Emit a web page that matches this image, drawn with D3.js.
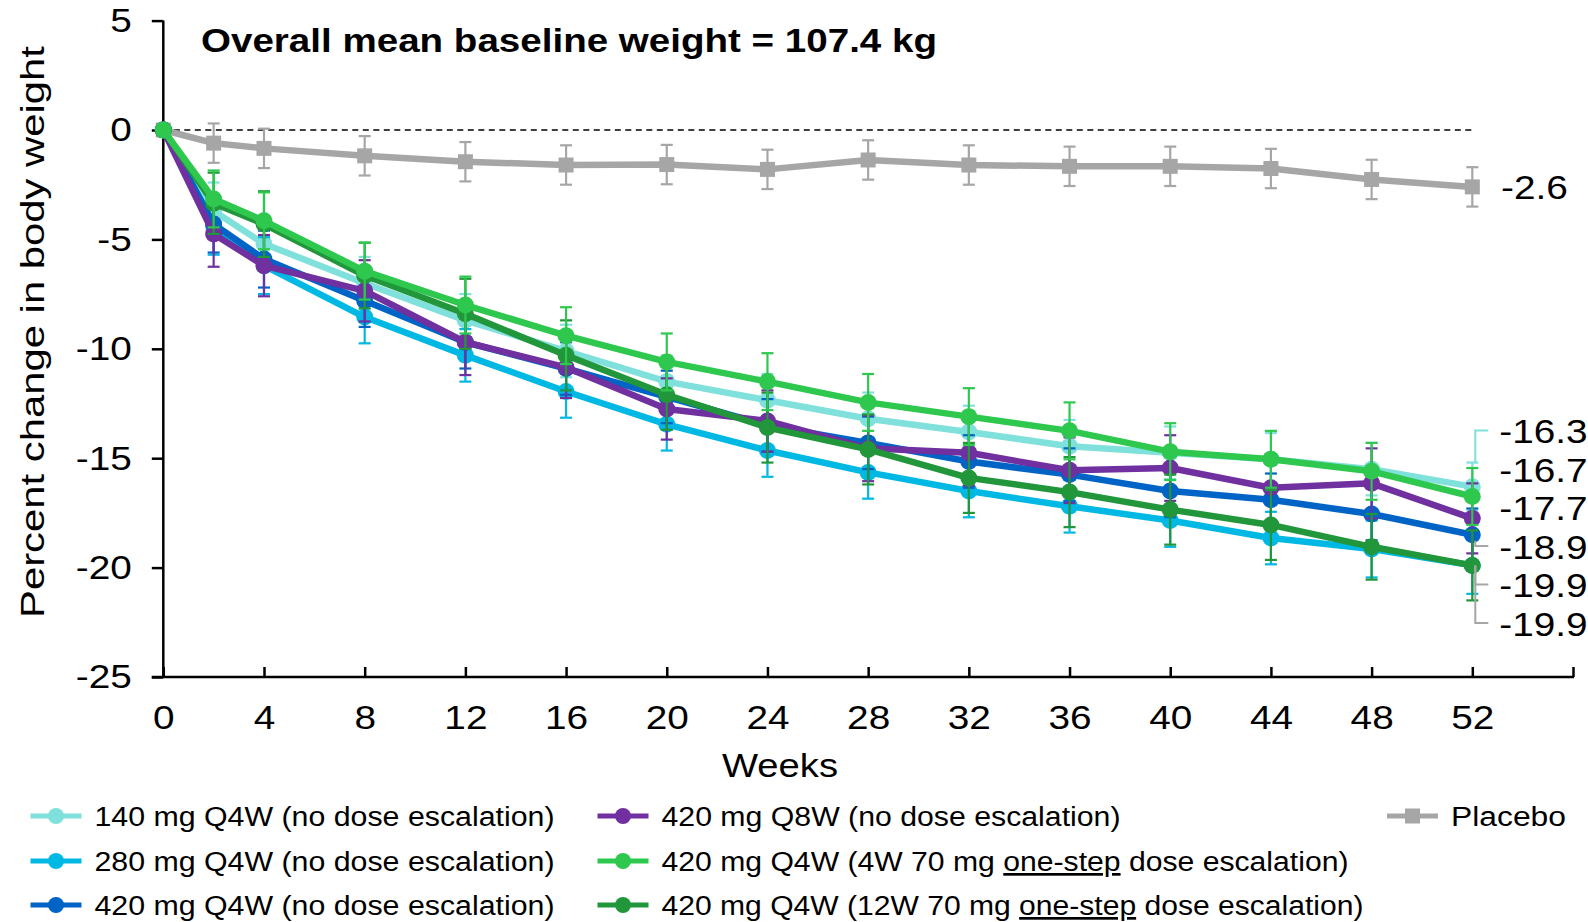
<!DOCTYPE html>
<html><head><meta charset="utf-8">
<script src="https://cdn.jsdelivr.net/npm/d3@7/dist/d3.min.js"></script>
<style>body{margin:0;background:#fff;}svg{display:block;}</style>
</head><body>
<script>
// ---------- DATA ----------
const weeks = [0, 2, 4, 8, 12, 16, 20, 24, 28, 32, 36, 40, 44, 48, 52];
const xTicks = [0, 4, 8, 12, 16, 20, 24, 28, 32, 36, 40, 44, 48, 52, 56];
const xTickLabels = ["0","4","8","12","16","20","24","28","32","36","40","44","48","52",""];
const yTicks = [5, 0, -5, -10, -15, -20, -25];
const yTickLabels = ["5", "0", "-5", "-10", "-15", "-20", "-25"];

const seriesNames = [
  "140 mg Q4W (no dose escalation)",
  "280 mg Q4W (no dose escalation)",
  "420 mg Q4W (no dose escalation)",
  "420 mg Q8W (no dose escalation)",
  "420 mg Q4W (4W 70 mg one-step dose escalation)",
  "420 mg Q4W (12W 70 mg one-step dose escalation)",
  "Placebo"
];
const mg140Q4W  = [0, -3.7, -5.2, -7.0, -8.7, -10.1, -11.5, -12.35, -13.2, -13.8, -14.45, -14.75, -15.05, -15.5, -16.3];
const mg280Q4W  = [0, -4.4, -6.2, -8.55, -10.3, -11.95, -13.45, -14.65, -15.65, -16.5, -17.2, -17.85, -18.65, -19.15, -19.9];
const mg420Q4W  = [0, -4.3, -5.9, -7.8, -9.7, -10.9, -12.2, -13.5, -14.3, -15.15, -15.75, -16.5, -16.9, -17.55, -18.5];
const mg420Q8W  = [0, -4.75, -6.2, -7.35, -9.7, -10.85, -12.75, -13.3, -14.55, -14.75, -15.55, -15.45, -16.35, -16.15, -17.75];
const esc4W     = [0, -3.15, -4.15, -6.45, -8.0, -9.4, -10.6, -11.5, -12.45, -13.1, -13.75, -14.7, -15.05, -15.6, -16.75];
const esc12W    = [0, -3.35, -4.3, -6.65, -8.4, -10.3, -12.1, -13.6, -14.6, -15.9, -16.55, -17.35, -18.05, -19.05, -19.9];
const placebo   = [0, -0.6, -0.84, -1.18, -1.45, -1.6, -1.58, -1.8, -1.37, -1.6, -1.66, -1.66, -1.76, -2.26, -2.6];

const err140    = [0, 1.3, 1.2, 1.2, 1.2, 1.2, 1.2, 1.2, 1.2, 1.2, 1.2, 1.2, 1.2, 1.2, 1.1];
const err280    = [0, 1.3, 1.3, 1.2, 1.2, 1.2, 1.2, 1.2, 1.2, 1.2, 1.2, 1.2, 1.2, 1.3, 1.3];
const err420    = [0, 1.3, 1.3, 1.2, 1.2, 1.2, 1.2, 1.2, 1.2, 1.2, 1.2, 1.2, 1.2, 1.2, 1.2];
const err420Q8W = [0, 1.5, 1.4, 1.4, 1.5, 1.4, 1.4, 1.4, 1.5, 1.5, 1.5, 1.5, 1.5, 1.6, 1.6];
const errEsc4W  = [0, 1.3, 1.3, 1.3, 1.3, 1.3, 1.3, 1.3, 1.3, 1.3, 1.3, 1.3, 1.3, 1.3, 1.3];
const errEsc12W = [0, 1.4, 1.5, 1.5, 1.6, 1.6, 1.6, 1.6, 1.6, 1.6, 1.6, 1.6, 1.6, 1.5, 1.6];
const errPlacebo= [0, 0.9, 0.9, 0.9, 0.9, 0.9, 0.9, 0.9, 0.9, 0.9, 0.9, 0.9, 0.9, 0.9, 0.9];

const endLabels = ["-16.3", "-16.7", "-17.7", "-18.9", "-19.9", "-19.9"];
const placeboEndLabel = "-2.6";
const titleText = "Overall mean baseline weight = 107.4 kg";
const xTitle = "Weeks";
const yTitle = "Percent change in body weight";

// ---------- STYLE ----------
const FONT = "'Liberation Sans', Arial, sans-serif";
const colors = ["#7fe0dc", "#00b8e4", "#0063c6", "#7030a0", "#2ec84e", "#22963a", "#a6a6a6"];
const WIDEN = 1.14;

const W = 1588, H = 922;
const svg = d3.select("body").append("svg").attr("width", W).attr("height", H)
  .style("font-family", FONT);

const x = d3.scaleLinear().domain([0, 56]).range([163.3, 1573]);
const y = d3.scaleLinear().domain([-25, 5]).range([677, 20.6]);

function widen(sel) {
  sel.each(function () {
    const L = this.getComputedTextLength();
    if (L > 0) d3.select(this).attr("textLength", L * WIDEN).attr("lengthAdjust", "spacingAndGlyphs");
  });
}

// zero dashed line
svg.append("line").attr("x1", x(0)).attr("x2", x(52)).attr("y1", y(0)).attr("y2", y(0))
  .attr("stroke", "#000").attr("stroke-width", 1.6).attr("stroke-dasharray", "6,4.5");

// y axis
const yAx = svg.append("g").attr("transform", `translate(${x(0)},0)`)
  .call(d3.axisLeft(y).tickValues(yTicks).tickSize(11.5).tickSizeOuter(0).tickPadding(20)
    .tickFormat((d, i) => yTickLabels[i]));
yAx.select(".domain").remove();
yAx.selectAll(".tick line").attr("stroke", "#000").attr("stroke-width", 2.5);
yAx.selectAll(".tick text").attr("font-size", 34).attr("font-family", FONT).attr("fill", "#000").call(widen);
svg.append("line").attr("x1", x(0)).attr("x2", x(0)).attr("y1", y(5)).attr("y2", y(-25))
  .attr("stroke", "#000").attr("stroke-width", 2.5);

// x axis
const xAx = svg.append("g").attr("transform", `translate(0,${y(-25)})`)
  .call(d3.axisBottom(x).tickValues(xTicks).tickSize(-10).tickSizeOuter(0).tickPadding(28)
    .tickFormat((d, i) => xTickLabels[i]));
xAx.select(".domain").remove();
xAx.selectAll(".tick line").attr("stroke", "#000").attr("stroke-width", 2.5);
xAx.selectAll(".tick text").attr("font-size", 34).attr("font-family", FONT).attr("fill", "#000").call(widen);
svg.append("line").attr("x1", x(0) - 11.5).attr("x2", x(56) + 1).attr("y1", y(-25)).attr("y2", y(-25))
  .attr("stroke", "#000").attr("stroke-width", 2.5);

// titles
svg.append("text").attr("x", 201).attr("y", 51.5).attr("font-size", 33).attr("font-weight", "bold")
  .attr("textLength", 736).attr("lengthAdjust", "spacingAndGlyphs").text(titleText);
svg.append("text").attr("x", 780).attr("y", 777).attr("font-size", 34).attr("text-anchor", "middle")
  .attr("textLength", 116).attr("lengthAdjust", "spacingAndGlyphs").text(xTitle);
svg.append("text").attr("transform", "translate(44,332) rotate(-90)").attr("font-size", 34)
  .attr("text-anchor", "middle").attr("textLength", 572).attr("lengthAdjust", "spacingAndGlyphs").text(yTitle);

// series
const series = [
  {name: seriesNames[6], vals: placebo, err: errPlacebo, color: colors[6], square: true},
  {name: seriesNames[0], vals: mg140Q4W, err: err140, color: colors[0]},
  {name: seriesNames[1], vals: mg280Q4W, err: err280, color: colors[1]},
  {name: seriesNames[2], vals: mg420Q4W, err: err420, color: colors[2]},
  {name: seriesNames[3], vals: mg420Q8W, err: err420Q8W, color: colors[3]},
  {name: seriesNames[5], vals: esc12W, err: errEsc12W, color: colors[5]},
  {name: seriesNames[4], vals: esc4W, err: errEsc4W, color: colors[4]}
];
const line = d3.line().x((d, i) => x(weeks[i])).y(d => y(d));
const capW = 6;
series.forEach(s => {
  const g = svg.append("g");
  const pts = s.vals.map((v, i) => ({w: weeks[i], v, e: s.err[i]})).filter(p => p.e > 0);
  const eb = g.append("g").attr("stroke", s.color).attr("stroke-width", 2.2);
  eb.selectAll("line.v").data(pts).join("line").attr("class", "v")
    .attr("x1", p => x(p.w)).attr("x2", p => x(p.w)).attr("y1", p => y(p.v + p.e)).attr("y2", p => y(p.v - p.e));
  eb.selectAll("line.t").data(pts).join("line").attr("class", "t")
    .attr("x1", p => x(p.w) - capW).attr("x2", p => x(p.w) + capW).attr("y1", p => y(p.v + p.e)).attr("y2", p => y(p.v + p.e));
  eb.selectAll("line.b").data(pts).join("line").attr("class", "b")
    .attr("x1", p => x(p.w) - capW).attr("x2", p => x(p.w) + capW).attr("y1", p => y(p.v - p.e)).attr("y2", p => y(p.v - p.e));
  g.append("path").attr("d", line(s.vals)).attr("fill", "none").attr("stroke", s.color)
    .attr("stroke-width", 6.5).attr("stroke-linejoin", "round");
  if (s.square) {
    g.selectAll("rect").data(s.vals).join("rect")
      .attr("x", (d, i) => x(weeks[i]) - 7.5).attr("y", d => y(d) - 7.5).attr("width", 15).attr("height", 15)
      .attr("fill", s.color);
  } else {
    g.selectAll("circle").data(s.vals).join("circle")
      .attr("cx", (d, i) => x(weeks[i])).attr("cy", d => y(d)).attr("r", 8.5).attr("fill", s.color);
  }
});

// end labels
const lastI = weeks.length - 1;
svg.append("text").attr("x", 1501).attr("y", y(placebo[lastI])).attr("dy", "0.35em")
  .attr("font-size", 34).text(placeboEndLabel).call(widen);
const labelY0 = 431.5, labelStep = 38.5;
const labelX = x(52) + 26;
endLabels.forEach((t, i) => {
  svg.append("text").attr("x", labelX + 1).attr("y", labelY0 + i * labelStep).attr("dy", "0.35em")
    .attr("font-size", 34).text(t).call(widen);
});
// connectors
const cx0 = x(52) + 3, cx1 = labelX - 10;
const connectors = [
  {i: 0, from: y(mg140Q4W[lastI] + err140[lastI]), color: colors[0]},
  {i: 3, from: y(mg420Q4W[lastI]) + 6, color: "#a6a6a6"},
  {i: 4, from: y(esc12W[lastI]), color: "#a6a6a6"},
  {i: 5, from: y(esc12W[lastI]), color: "#a6a6a6"}
];
connectors.forEach(c => {
  const ly = labelY0 + c.i * labelStep - 1;
  svg.append("path").attr("d", `M${cx1},${ly}H${cx0}V${c.from}`).attr("fill", "none")
    .attr("stroke", c.color).attr("stroke-width", 2);
});

// legend
const legendItems = [
  {s: 0, x: 30.5, row: 0, w: 460, parts: [["140 mg Q4W (no dose escalation)", false]]},
  {s: 1, x: 30.5, row: 1, w: 460, parts: [["280 mg Q4W (no dose escalation)", false]]},
  {s: 2, x: 30.5, row: 2, w: 460, parts: [["420 mg Q4W (no dose escalation)", false]]},
  {s: 3, x: 597.5, row: 0, w: 459, parts: [["420 mg Q8W (no dose escalation)", false]]},
  {s: 4, x: 597.5, row: 1, w: 687, parts: [["420 mg Q4W (4W 70 mg ", false], ["one-step", true], [" dose escalation)", false]]},
  {s: 5, x: 597.5, row: 2, w: 702, parts: [["420 mg Q4W (12W 70 mg ", false], ["one-step", true], [" dose escalation)", false]]},
  {s: 6, x: 1387, row: 0, w: 115, parts: [["Placebo", false]]}
];
const rowBase = [826, 871, 915];
legendItems.forEach(it => {
  const col = colors[it.s];
  const cy = rowBase[it.row] - 10;
  const g = svg.append("g");
  g.append("line").attr("x1", it.x).attr("x2", it.x + 51).attr("y1", cy).attr("y2", cy)
    .attr("stroke", col).attr("stroke-width", 5);
  if (it.s === 6) {
    g.append("rect").attr("x", it.x + 25.5 - 7.5).attr("y", cy - 7.5).attr("width", 15).attr("height", 15).attr("fill", col);
  } else {
    g.append("circle").attr("cx", it.x + 25.5).attr("cy", cy).attr("r", 8).attr("fill", col);
  }
  const t = g.append("text").attr("x", it.x + 64).attr("y", rowBase[it.row]).attr("font-size", 27)
    .attr("textLength", it.w).attr("lengthAdjust", "spacingAndGlyphs");
  it.parts.forEach(p => {
    const ts = t.append("tspan").text(p[0]);
    if (p[1]) ts.attr("text-decoration", "underline");
  });
});
</script>
</body></html>
